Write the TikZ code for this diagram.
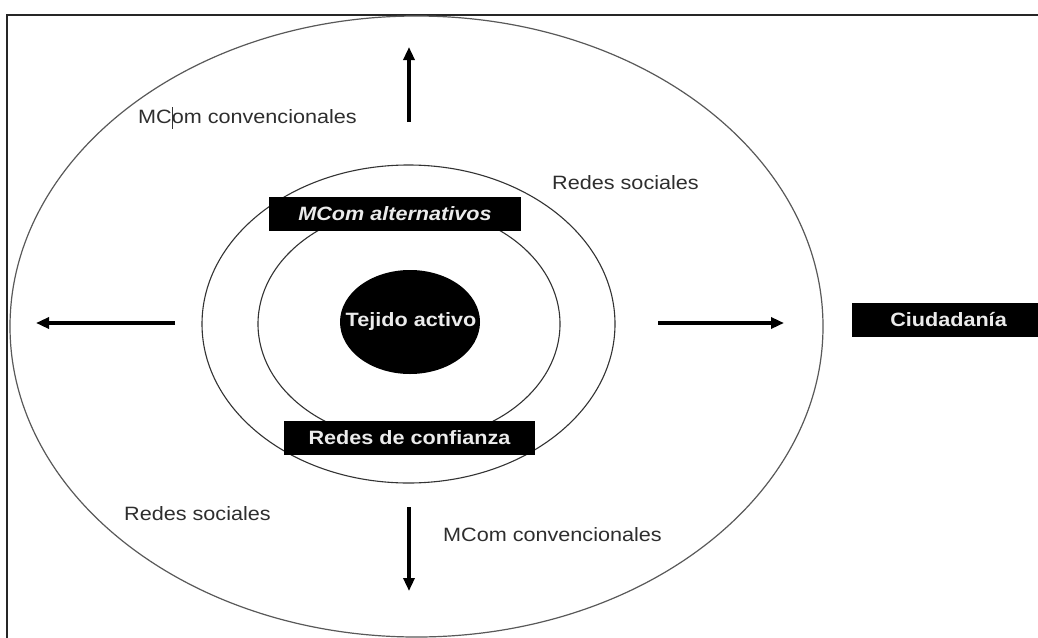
\documentclass[tikz,border=0pt]{standalone}
\usepackage{fontspec}
\setmainfont[FakeStretch=1.12]{Liberation Sans}
\usetikzlibrary{arrows.meta,shapes.geometric}
\tikzset{
  lbl/.style={font=\fontsize{19.3}{22}\selectfont, text=black!82, inner sep=0pt},
  boldtxt/.style={font=\fontsize{19.3}{22}\selectfont\bfseries, text=white!92!black},
  blackbox/.style={fill=black, boldtxt, minimum height=34pt, inner sep=0pt},
  ring/.style={draw=black!80, line width=1.1pt},
  outerring/.style={draw=black!65, line width=1.2pt},
  arr/.style={line width=3.2pt, -{Triangle[length=13pt,width=11pt]}},
  frame/.style={draw=black!85, line width=2pt},
}
\begin{document}
\begin{tikzpicture}[x=1pt,y=-1pt]
\useasboundingbox (0,0) rectangle (1038,637);
\fill[white] (0,0) rectangle (1038,637);
\begin{scope}
\clip (0,0) rectangle (1038,637);
\draw[frame] (7,15) rectangle (1060,660);
\draw[outerring] (416.5,326.5) ellipse [x radius=406.5pt, y radius=310.5pt];
\draw[ring] (408.5,324) ellipse [x radius=206.5pt, y radius=159pt];
\draw[ring] (409,324) ellipse [x radius=151pt, y radius=117pt];

\fill[black] (410,322) ellipse [x radius=70pt, y radius=52pt];
\node[boldtxt, inner sep=0pt] (core) at (411,322) {Tejido activo};

\node[blackbox, minimum width=252pt, font=\fontsize{19.3}{22}\selectfont\bfseries\itshape] (alt) at (395,214) {MCom alternativos};
\node[blackbox, minimum width=251pt] (conf) at (409.5,438) {Redes de confianza};
\node[blackbox, minimum width=193pt] (ciud) at (948.5,320) {Ciudadanía};

\node[lbl] (mcomtop) at (247.5,117) {MCom convencionales};
\node[lbl] (redestop) at (625.5,183) {Redes sociales};
\node[lbl] (redesbot) at (197.5,514) {Redes sociales};
\node[lbl] (mcombot) at (552.5,535) {MCom convencionales};

\coordinate (cur1) at (172,107);
\coordinate (cur2) at (172,129);
\draw[black!80, line width=0.8pt] (cur1) -- (cur2);

\coordinate (upS) at (409,122);
\coordinate (upE) at (409,47);
\coordinate (lfS) at (175,323);
\coordinate (lfE) at (36,323);
\coordinate (rtS) at (658,323);
\coordinate (rtE) at (784,323);
\coordinate (dnS) at (409,507);
\coordinate (dnE) at (409,591);
\draw[arr] (upS) -- (upE);
\draw[arr] (lfS) -- (lfE);
\draw[arr] (rtS) -- (rtE);
\draw[arr] (dnS) -- (dnE);
\end{scope}
\end{tikzpicture}
\end{document}
